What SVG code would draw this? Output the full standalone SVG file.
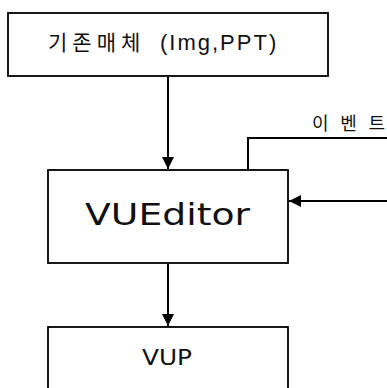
<svg xmlns="http://www.w3.org/2000/svg" width="387" height="388" viewBox="0 0 387 388">
<style>
.box{fill:#fff;stroke:#000;stroke-width:1.8}
.ln{fill:none;stroke:#000;stroke-width:2}
.t{font-family:"Liberation Sans","Noto Sans CJK KR",sans-serif;fill:#111}
.v{font-family:"DejaVu Sans","Liberation Sans",sans-serif;fill:#111}
</style>
<defs>
<marker id="ah" viewBox="0 0 12 12" refX="12" refY="6" markerWidth="12" markerHeight="12" markerUnits="userSpaceOnUse" orient="auto">
<path d="M0,0 L12,6 L0,12 Z" fill="#000"/>
</marker>
</defs>
<rect width="387" height="388" fill="#fff"/>
<g id="connectors">
<line class="ln" x1="168" y1="77" x2="168" y2="169" marker-end="url(#ah)"/>
<line class="ln" x1="168" y1="264" x2="168" y2="326" marker-end="url(#ah)"/>
<polyline class="ln" points="248,170 248,138 387,138"/>
<line class="ln" x1="387" y1="201" x2="289" y2="201" marker-end="url(#ah)"/>
<text class="t" x="312" y="130" font-size="18" textLength="73" lengthAdjust="spacing">이벤트</text>
</g>
<g id="node-media">
<rect class="box" x="8" y="13" width="320" height="63"/>
<text class="t" x="48" y="50" font-size="21"><tspan letter-spacing="5">기존매체</tspan> <tspan x="160" font-size="22" letter-spacing="2">(Img,PPT)</tspan></text>
</g>
<g id="node-vueditor">
<rect class="box" x="48" y="170" width="240" height="93"/>
<text class="v" x="85" y="225" font-size="30" textLength="165" lengthAdjust="spacingAndGlyphs">VUEditor</text>
</g>
<g id="node-vup">
<rect class="box" x="48" y="327" width="240" height="80"/>
<text class="v" x="142" y="365" font-size="22" textLength="50" lengthAdjust="spacingAndGlyphs">VUP</text>
</g>
</svg>
